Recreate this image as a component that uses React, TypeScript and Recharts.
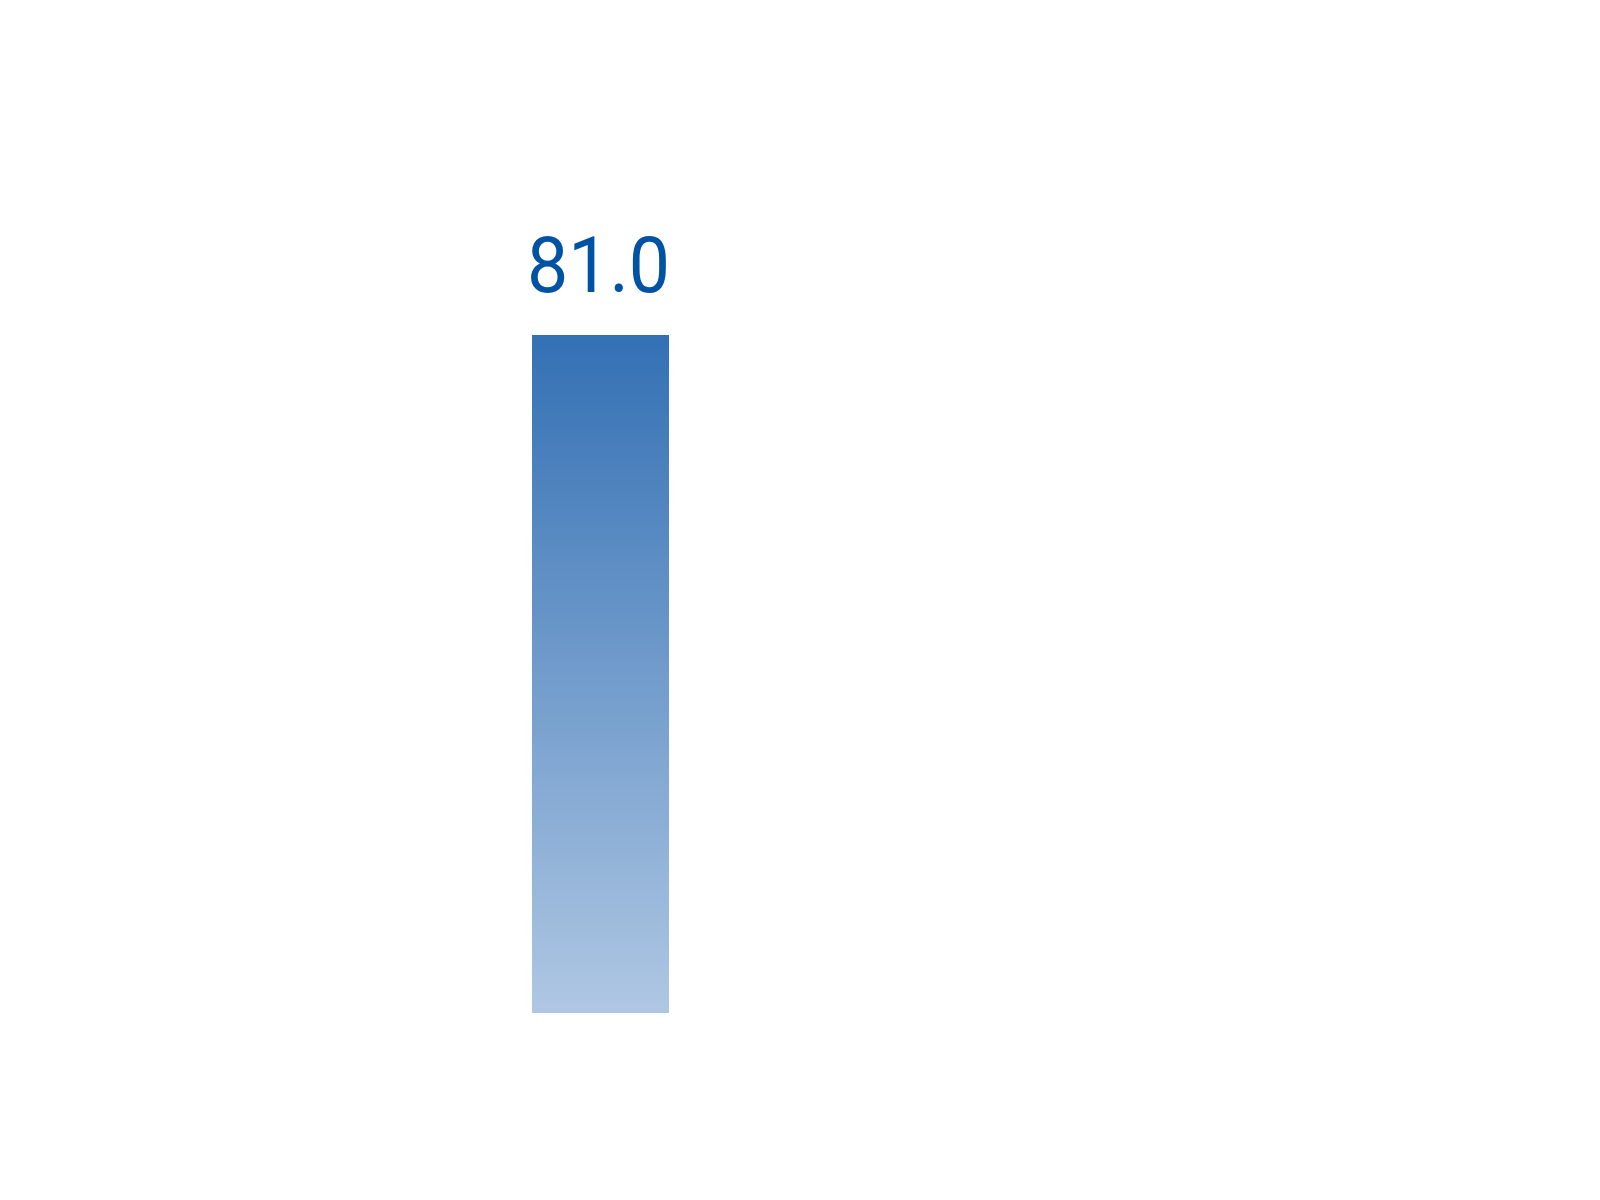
import { BarChart, Bar, XAxis, YAxis, LabelList } from "recharts";

// single category, single value
const categories = ["A"];
const values = [81.0];

const data = categories.map((c, i) => ({ name: c, value: values[i] }));

const ValueLabel = (props: any) => {
  const { x, y, width, value } = props;
  return (
    <text
      x={Number(x) + Number(width) / 2 - 2}
      y={Number(y) - 43}
      textAnchor="middle"
      fill="#0052a3"
      textLength={143}
      lengthAdjust="spacingAndGlyphs"
      style={{ fontFamily: "Roboto, 'Liberation Sans', Arial, sans-serif", fontSize: 78 }}
    >
      {Number(value).toFixed(1)}
    </text>
  );
};

export default function App() {
  return (
    <div style={{ position: "absolute", left: 0, top: 0, background: "#fff" }}>
      <BarChart
        width={1600}
        height={1200}
        data={data}
        margin={{ top: 176, right: 399, left: 0, bottom: 187 }}
      >
        <defs>
          <linearGradient id="barFill" x1="0" y1="0" x2="0" y2="1">
            <stop offset="0%" stopColor="#3370b4" />
            <stop offset="100%" stopColor="#afc7e3" />
          </linearGradient>
        </defs>
        <XAxis dataKey="name" hide />
        <YAxis hide domain={[0, 100]} />
        <Bar dataKey="value" fill="url(#barFill)" barSize={137} isAnimationActive={false}>
          <LabelList dataKey="value" content={ValueLabel} />
        </Bar>
      </BarChart>
    </div>
  );
}
